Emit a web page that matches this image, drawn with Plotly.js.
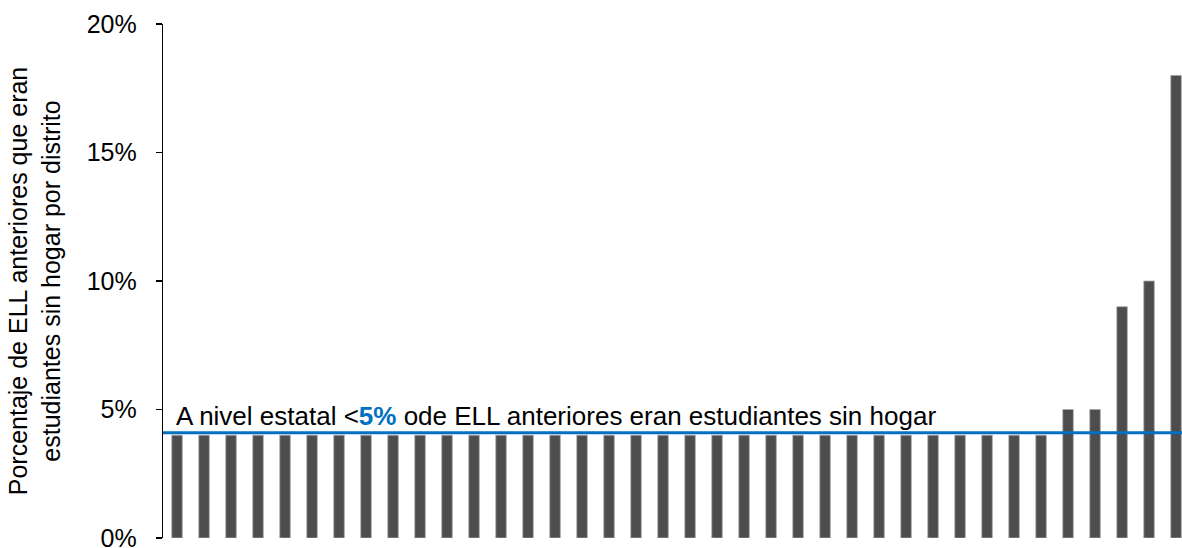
<!DOCTYPE html>
<html>
<head>
<meta charset="utf-8">
<script src="https://cdn.plot.ly/plotly-3.0.1.min.js"></script>
<style>html,body{margin:0;padding:0;background:#fff;}#chart{width:1182px;height:548px;}</style>
</head>
<body>
<div id="chart"></div>
<script>
// Data: share of former ELLs who were homeless, by district (sorted)
const districts = ["D1","D2","D3","D4","D5","D6","D7","D8","D9","D10",
  "D11","D12","D13","D14","D15","D16","D17","D18","D19","D20",
  "D21","D22","D23","D24","D25","D26","D27","D28","D29","D30",
  "D31","D32","D33","D34","D35","D36","D37","D38"];
const pctHomeless = [4,4,4,4,4,4,4,4,4,4,
  4,4,4,4,4,4,4,4,4,4,
  4,4,4,4,4,4,4,4,4,4,
  4,4,4,5,5,9,10,18];
const stateAvg = 4.1;
const yTickVals = [0,5,10,15,20];
const yTickText = ["0%","5%","10%","15%","20%"];

const trace = {
  type: "bar",
  x: districts,
  y: pctHomeless,
  width: 0.39,
  marker: {color: "#4D4D4D", line: {color: "#a8a8a8", width: 0.8}},
  hoverinfo: "skip"
};

const layout = {
  width: 1182, height: 548,
  margin: {l: 163, r: 0, t: 24, b: 10},
  paper_bgcolor: "#fff", plot_bgcolor: "#fff",
  showlegend: false,
  xaxis: {
    type: "category",
    range: [-0.52, 37.22],
    showticklabels: false, ticks: "", showline: false,
    showgrid: false, zeroline: false
  },
  yaxis: {
    range: [0, 20],
    tickvals: yTickVals, ticktext: yTickText,
    ticks: "outside", ticklen: 6, tickcolor: "#000", tickwidth: 1.3,
    ticklabelstandoff: 14,
    ticklabeloverflow: "allow",
    showline: true, linecolor: "#000", linewidth: 1.3,
    showgrid: false, zeroline: false,
    tickfont: {family: "Liberation Sans, Arial, sans-serif", size: 25, color: "#000"},
    title: {
      text: "Porcentaje de ELL anteriores que eran<br>estudiantes sin hogar por distrito",
      font: {family: "Liberation Sans Narrow, Arial Narrow, Liberation Sans, sans-serif", size: 25, color: "#000"},
      standoff: 19
    }
  },
  shapes: [{
    type: "line", xref: "paper", x0: 0, x1: 1, yref: "y", y0: stateAvg, y1: stateAvg,
    line: {color: "#0070C0", width: 3}
  }],
  annotations: [{
    xref: "paper", x: 0.011, xanchor: "left",
    yref: "y", y: stateAvg, yanchor: "bottom", yshift: 0,
    showarrow: false,
    text: "A nivel estatal &lt;<span style=\"color:#0070C0\"><b>5%</b></span> ode ELL anteriores eran estudiantes sin hogar",
    font: {family: "Liberation Sans Narrow, Arial Narrow, Liberation Sans, sans-serif", size: 26, color: "#000"}
  }]
};

Plotly.newPlot("chart", [trace], layout, {displayModeBar: false, staticPlot: true});
</script>
</body>
</html>
